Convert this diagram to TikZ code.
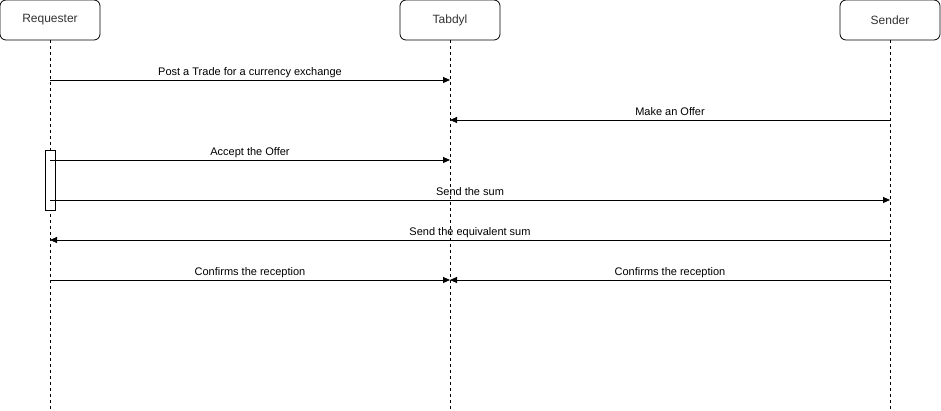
\documentclass[tikz,border=0pt]{standalone}
\usepackage{fontspec}
\setmainfont{Liberation Sans}
\usetikzlibrary{arrows.meta}
\begin{document}
\begin{tikzpicture}[x=1pt,y=-1pt,
  actor/.style={draw=black,fill=white,rounded corners=6pt,minimum width=100pt,minimum height=40pt,inner sep=0pt,font=\fontsize{12}{14}\selectfont,text=black!80,line width=0.8pt},
  life/.style={dash pattern=on 3pt off 3pt,line width=0.7pt},
  msg/.style={-{Triangle[length=7pt,width=6pt]},line width=0.8pt},
  lbl/.style={font=\fontsize{11}{13}\selectfont,inner sep=1pt,anchor=south,text height=8pt,text depth=2.5pt}]
\useasboundingbox (0,0) rectangle (941,411);
\node[actor] (req) at (50,20) {Requester};
\node[actor] (tab) at (450,20) {Tabdyl};
\node[actor] (snd) at (890,20) {Sender};
\coordinate (reqend) at (50,411);
\coordinate (tabend) at (450,411);
\coordinate (sndend) at (890,411);
\draw[life] (req.south) -- (reqend);
\draw[life] (tab.south) -- (tabend);
\draw[life] (snd.south) -- (sndend);
\node[draw,fill=white,line width=0.8pt,minimum width=10pt,minimum height=60pt,inner sep=0pt] (act) at (50,180) {};
% row coordinates
\coordinate (r1) at (50,80);   \coordinate (t1) at (450,80);
\coordinate (s2) at (890,120); \coordinate (t2) at (450,120);
\coordinate (r3) at (50,160);  \coordinate (t3) at (450,160);
\coordinate (r4) at (50,200);  \coordinate (s4) at (890,200);
\coordinate (s5) at (890,240); \coordinate (r5) at (50,240);
\coordinate (r6) at (50,280);  \coordinate (t6) at (450,280);
\coordinate (s6) at (890,280); \coordinate (t6b) at (450,280);
\draw[msg] (r1) -- (t1) node[lbl,midway,yshift=1pt] {Post a Trade for a currency exchange};
\draw[msg] (s2) -- (t2) node[lbl,midway,yshift=1pt] {Make an Offer};
\draw[msg] (r3) -- (t3) node[lbl,midway,yshift=1pt] {Accept the Offer};
\draw[msg] (r4) -- (s4) node[lbl,midway,yshift=1pt] {Send the sum};
\draw[msg] (s5) -- (r5) node[lbl,midway,yshift=1pt] {Send the equivalent sum};
\draw[msg] (r6) -- (t6) node[lbl,midway,yshift=1pt] {Confirms the reception};
\draw[msg] (s6) -- (t6b) node[lbl,midway,yshift=1pt] {Confirms the reception};
\end{tikzpicture}
\end{document}
